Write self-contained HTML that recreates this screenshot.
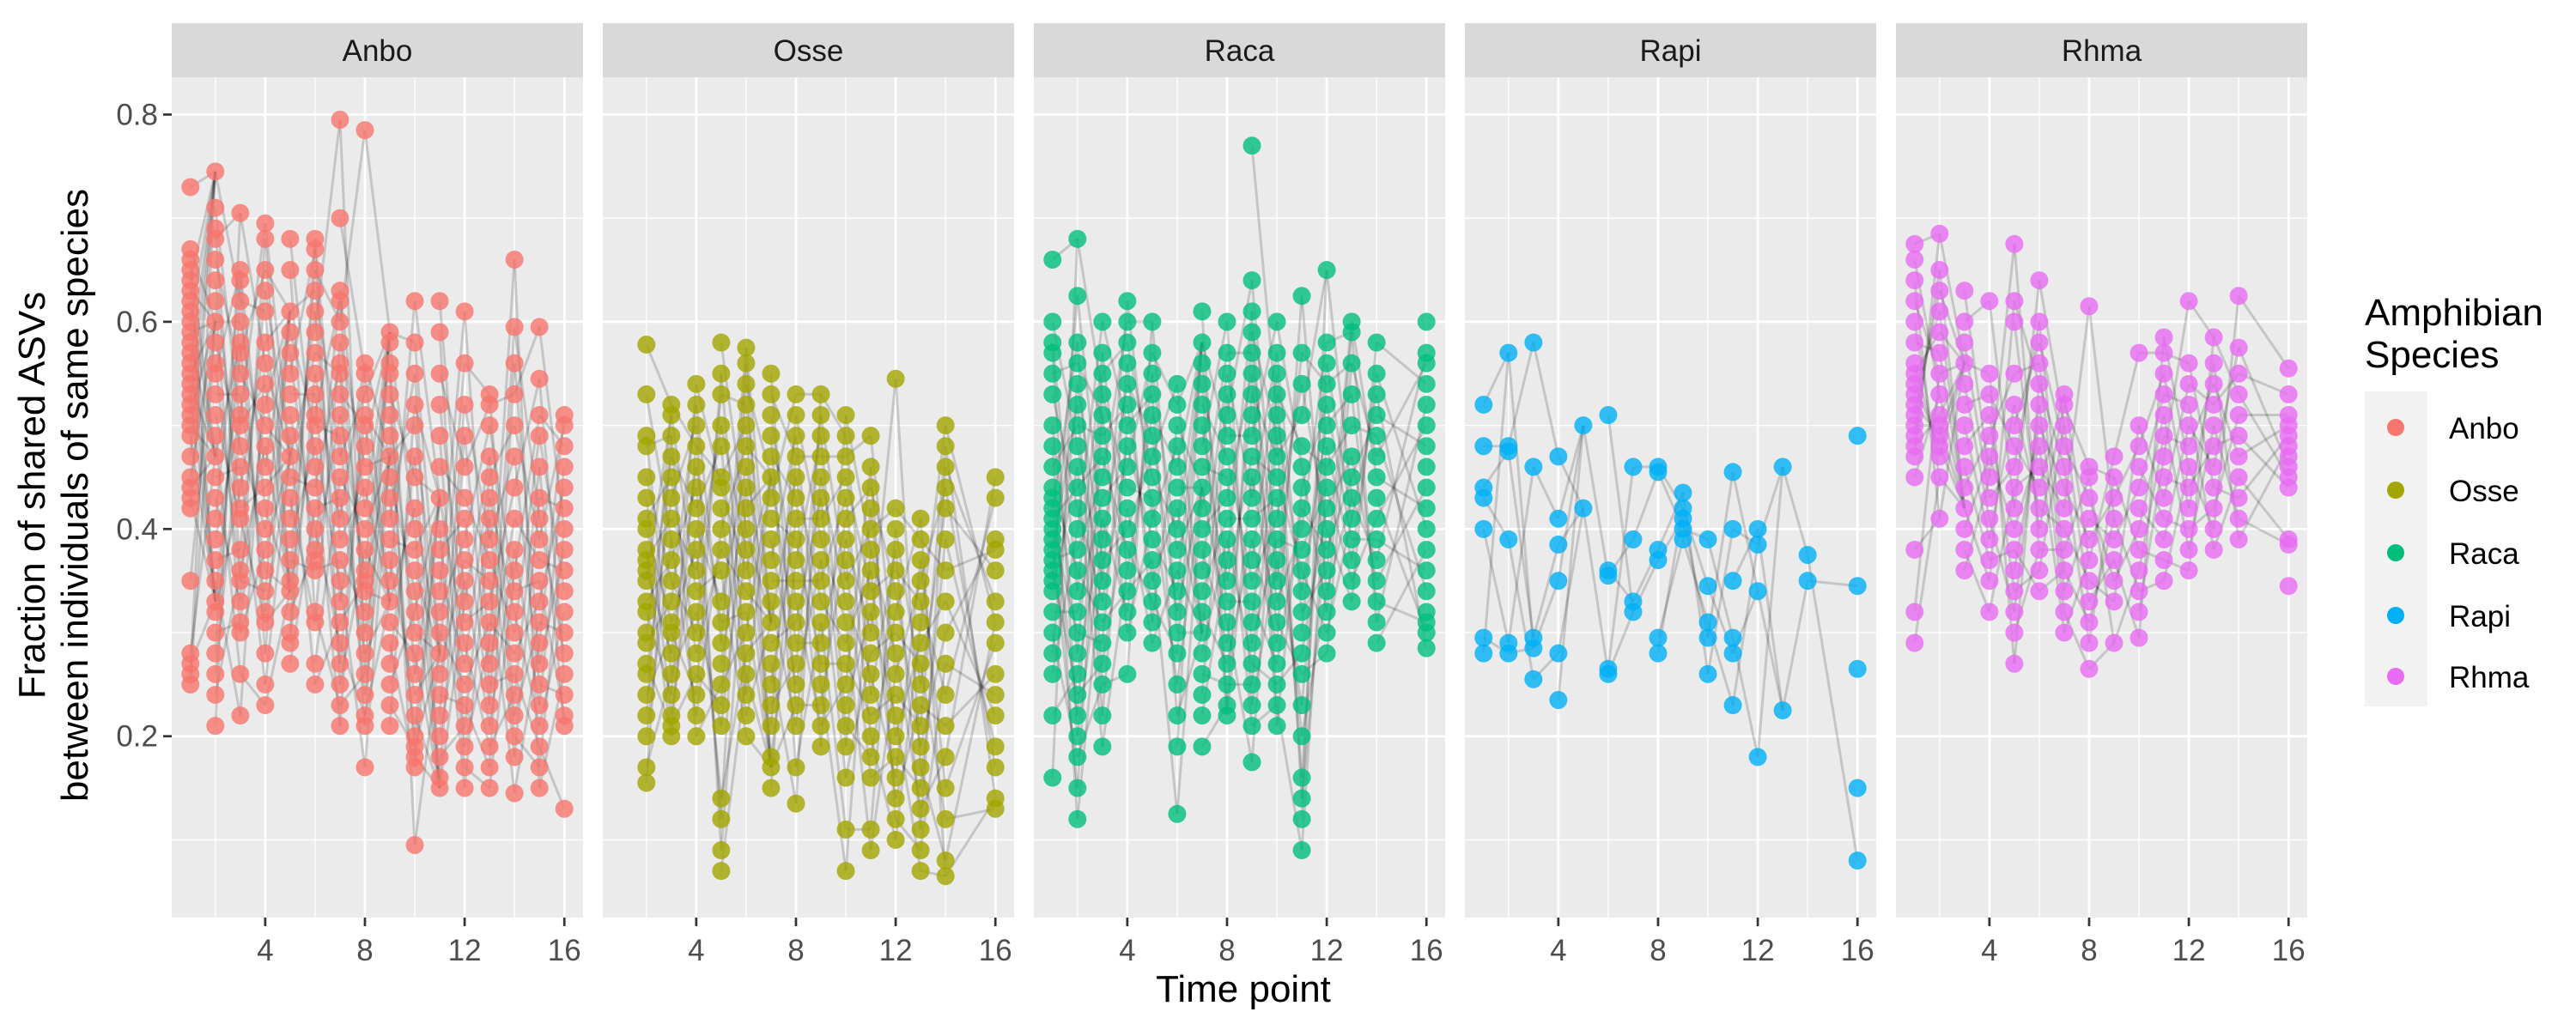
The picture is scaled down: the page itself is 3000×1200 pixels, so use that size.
<!DOCTYPE html>
<html><head><meta charset="utf-8"><style>
html,body{margin:0;padding:0;background:#fff}
svg{display:block}
text{font-family:"Liberation Sans",Arial,sans-serif}
</style></head><body>
<svg id="chart" width="3000" height="1200" viewBox="0 0 3000 1200" xmlns="http://www.w3.org/2000/svg">
<rect width="3000" height="1200" fill="#fff"/>
<g id="panels"></g>
<text x="1448" y="1167" font-size="44" text-anchor="middle" fill="#000">Time point</text>
<g transform="translate(52,577) rotate(-90)">
<text x="0" y="0" font-size="44" text-anchor="middle" fill="#000">Fraction of shared ASVs</text>
<text x="0" y="50" font-size="44" text-anchor="middle" fill="#000">between individuals of same species</text>
</g>
<g>
<text x="2754" y="379" font-size="44" fill="#000">Amphibian</text>
<text x="2754" y="428" font-size="44" fill="#000">Species</text>
<rect x="2754" y="456" width="73" height="367" fill="#f2f2f2"/>
<g id="legend-items"></g>
</g>
</svg>
<script>
const species = ["Anbo","Osse","Raca","Rapi","Rhma"];
const colors = ["#F8766D","#A3A500","#00BF7D","#00B0F6","#E76BF3"];
const xTicks = [4,8,12,16];
const yTicks = [0.2,0.4,0.6,0.8];
const yTickLabels = ["0.2","0.4","0.6","0.8"];

const anboTimes = [1,2,3,4,5,6,7,8,9,10,11,12,13,14,15,16];
const anboValues = [
[0.73,0.67,0.66,0.65,0.64,0.63,0.62,0.61,0.60,0.59,0.58,0.57,0.56,0.55,0.54,0.53,0.52,0.51,0.50,0.49,0.47,0.45,0.44,0.43,0.42,0.35,0.28,0.27,0.26,0.25],
[0.745,0.71,0.69,0.68,0.66,0.64,0.62,0.60,0.58,0.56,0.55,0.53,0.51,0.49,0.47,0.45,0.43,0.41,0.39,0.37,0.35,0.33,0.32,0.30,0.28,0.26,0.24,0.21],
[0.705,0.65,0.64,0.62,0.60,0.58,0.57,0.55,0.53,0.51,0.50,0.48,0.46,0.44,0.42,0.41,0.38,0.36,0.35,0.33,0.31,0.30,0.26,0.22],
[0.695,0.68,0.65,0.63,0.61,0.58,0.56,0.54,0.52,0.50,0.48,0.46,0.44,0.42,0.40,0.38,0.36,0.34,0.32,0.31,0.28,0.25,0.23],
[0.68,0.65,0.61,0.59,0.57,0.55,0.53,0.51,0.49,0.47,0.45,0.43,0.41,0.39,0.37,0.35,0.34,0.32,0.30,0.29,0.27],
[0.68,0.67,0.65,0.63,0.61,0.59,0.57,0.55,0.53,0.51,0.50,0.48,0.46,0.44,0.42,0.40,0.38,0.37,0.36,0.32,0.31,0.27,0.25],
[0.795,0.70,0.63,0.62,0.60,0.58,0.56,0.55,0.53,0.51,0.49,0.47,0.45,0.43,0.41,0.39,0.37,0.35,0.33,0.31,0.29,0.27,0.25,0.23,0.21],
[0.785,0.56,0.55,0.53,0.51,0.50,0.48,0.46,0.44,0.42,0.40,0.38,0.36,0.35,0.34,0.32,0.30,0.28,0.26,0.24,0.22,0.21,0.17],
[0.59,0.58,0.56,0.55,0.53,0.51,0.49,0.47,0.45,0.43,0.41,0.39,0.37,0.35,0.33,0.31,0.29,0.27,0.25,0.23,0.21],
[0.62,0.58,0.55,0.52,0.50,0.47,0.45,0.42,0.40,0.38,0.36,0.34,0.32,0.30,0.28,0.26,0.24,0.22,0.20,0.19,0.18,0.17,0.095],
[0.62,0.59,0.55,0.52,0.49,0.46,0.43,0.40,0.38,0.36,0.34,0.32,0.30,0.28,0.26,0.24,0.22,0.20,0.18,0.16,0.15],
[0.61,0.56,0.52,0.49,0.46,0.43,0.41,0.39,0.37,0.35,0.33,0.31,0.29,0.27,0.25,0.23,0.21,0.19,0.17,0.15],
[0.53,0.52,0.50,0.47,0.45,0.43,0.41,0.39,0.37,0.35,0.33,0.31,0.29,0.27,0.25,0.23,0.21,0.19,0.17,0.15],
[0.66,0.595,0.56,0.53,0.50,0.47,0.44,0.41,0.38,0.36,0.34,0.32,0.30,0.28,0.26,0.24,0.22,0.20,0.18,0.145],
[0.595,0.545,0.51,0.49,0.46,0.43,0.41,0.39,0.37,0.35,0.33,0.31,0.29,0.27,0.25,0.23,0.21,0.19,0.17,0.15],
[0.51,0.50,0.48,0.46,0.44,0.42,0.40,0.38,0.36,0.34,0.32,0.30,0.28,0.26,0.24,0.22,0.21,0.13]];

const osseTimes = [2,3,4,5,6,7,8,9,10,11,12,13,14,16];
const osseValues = [
[0.578,0.53,0.49,0.48,0.45,0.43,0.41,0.40,0.38,0.37,0.36,0.35,0.33,0.32,0.30,0.29,0.27,0.26,0.24,0.22,0.20,0.17,0.155],
[0.52,0.51,0.49,0.47,0.45,0.43,0.41,0.39,0.37,0.35,0.33,0.31,0.30,0.28,0.26,0.24,0.22,0.21,0.20],
[0.54,0.52,0.50,0.48,0.46,0.44,0.42,0.40,0.38,0.36,0.34,0.32,0.30,0.28,0.26,0.24,0.22,0.20],
[0.58,0.55,0.53,0.50,0.48,0.45,0.44,0.42,0.40,0.38,0.36,0.33,0.31,0.29,0.27,0.25,0.23,0.21,0.14,0.12,0.09,0.07],
[0.575,0.56,0.54,0.52,0.50,0.48,0.46,0.44,0.42,0.40,0.38,0.36,0.34,0.32,0.30,0.28,0.26,0.24,0.22,0.20],
[0.55,0.53,0.51,0.49,0.47,0.45,0.43,0.41,0.39,0.37,0.35,0.33,0.31,0.29,0.27,0.25,0.23,0.21,0.18,0.17,0.15],
[0.53,0.51,0.49,0.47,0.45,0.43,0.41,0.39,0.37,0.35,0.33,0.31,0.29,0.27,0.25,0.23,0.21,0.17,0.135],
[0.53,0.51,0.49,0.47,0.45,0.43,0.41,0.39,0.37,0.35,0.33,0.31,0.29,0.27,0.25,0.23,0.21,0.19],
[0.51,0.49,0.47,0.45,0.43,0.41,0.39,0.37,0.35,0.33,0.31,0.29,0.27,0.25,0.23,0.21,0.19,0.16,0.11,0.07],
[0.49,0.46,0.44,0.42,0.40,0.38,0.36,0.34,0.32,0.30,0.28,0.26,0.24,0.22,0.20,0.18,0.16,0.11,0.09],
[0.545,0.42,0.40,0.38,0.36,0.34,0.32,0.30,0.28,0.26,0.24,0.22,0.20,0.18,0.16,0.14,0.12,0.10],
[0.41,0.39,0.37,0.35,0.33,0.31,0.29,0.27,0.25,0.23,0.21,0.19,0.17,0.15,0.13,0.11,0.09,0.07],
[0.50,0.48,0.46,0.44,0.42,0.39,0.36,0.33,0.30,0.27,0.24,0.21,0.18,0.15,0.12,0.08,0.065],
[0.45,0.43,0.39,0.38,0.36,0.33,0.31,0.29,0.26,0.24,0.22,0.19,0.17,0.14,0.13]];

const racaTimes = [1,2,3,4,5,6,7,8,9,10,11,12,13,14,16];
const racaValues = [
[0.66,0.60,0.58,0.57,0.55,0.53,0.50,0.48,0.46,0.44,0.43,0.42,0.41,0.40,0.39,0.38,0.37,0.36,0.35,0.34,0.32,0.30,0.28,0.26,0.22,0.16],
[0.68,0.625,0.58,0.56,0.54,0.52,0.50,0.48,0.46,0.44,0.42,0.40,0.38,0.36,0.34,0.32,0.30,0.28,0.26,0.24,0.22,0.20,0.18,0.15,0.12],
[0.60,0.57,0.55,0.53,0.51,0.49,0.47,0.45,0.43,0.41,0.39,0.37,0.35,0.33,0.31,0.29,0.27,0.25,0.22,0.19],
[0.62,0.60,0.58,0.56,0.54,0.52,0.50,0.48,0.46,0.44,0.42,0.40,0.38,0.36,0.34,0.32,0.30,0.26],
[0.60,0.57,0.55,0.53,0.51,0.49,0.47,0.45,0.43,0.41,0.39,0.37,0.35,0.33,0.31,0.29],
[0.54,0.52,0.50,0.48,0.46,0.44,0.42,0.40,0.38,0.36,0.34,0.32,0.30,0.28,0.25,0.22,0.19,0.125],
[0.61,0.58,0.56,0.54,0.52,0.50,0.48,0.46,0.44,0.42,0.40,0.38,0.36,0.34,0.32,0.30,0.28,0.26,0.24,0.22,0.19],
[0.60,0.57,0.55,0.53,0.51,0.49,0.47,0.45,0.43,0.41,0.39,0.37,0.35,0.33,0.31,0.29,0.27,0.25,0.23,0.22],
[0.77,0.64,0.61,0.59,0.57,0.55,0.53,0.51,0.49,0.47,0.45,0.43,0.41,0.39,0.37,0.35,0.33,0.31,0.29,0.27,0.25,0.23,0.21,0.175],
[0.60,0.57,0.55,0.53,0.51,0.49,0.47,0.45,0.43,0.41,0.39,0.37,0.35,0.33,0.31,0.29,0.27,0.25,0.23,0.21],
[0.625,0.57,0.54,0.51,0.48,0.46,0.44,0.42,0.40,0.38,0.36,0.34,0.32,0.30,0.28,0.26,0.23,0.20,0.16,0.14,0.12,0.09],
[0.65,0.58,0.56,0.54,0.52,0.50,0.48,0.46,0.44,0.42,0.40,0.38,0.36,0.34,0.32,0.30,0.28],
[0.60,0.59,0.56,0.53,0.50,0.47,0.45,0.43,0.41,0.39,0.37,0.35,0.33],
[0.58,0.55,0.53,0.51,0.49,0.47,0.45,0.43,0.41,0.39,0.37,0.35,0.33,0.31,0.29],
[0.60,0.57,0.56,0.54,0.52,0.50,0.48,0.46,0.44,0.42,0.40,0.38,0.36,0.34,0.32,0.31,0.30,0.285]];

const rapiTimes = [1,2,3,4,5,6,7,8,9,10,11,12,13,14,16];
const rapiValues = [
[0.52,0.48,0.44,0.43,0.40,0.295,0.28],
[0.57,0.48,0.475,0.39,0.29,0.28],
[0.58,0.46,0.295,0.285,0.255],
[0.47,0.41,0.385,0.35,0.28,0.235],
[0.50,0.42],
[0.51,0.36,0.355,0.265,0.26],
[0.46,0.39,0.33,0.32],
[0.46,0.455,0.38,0.37,0.295,0.28],
[0.435,0.42,0.41,0.40,0.39],
[0.39,0.345,0.31,0.295,0.26],
[0.455,0.40,0.35,0.295,0.28,0.23],
[0.40,0.385,0.34,0.18],
[0.46,0.225],
[0.375,0.35],
[0.49,0.345,0.265,0.15,0.08]];

const rhmaTimes = [1,2,3,4,5,6,7,8,9,10,11,12,13,14,16];
const rhmaValues = [
[0.675,0.66,0.64,0.62,0.60,0.58,0.56,0.55,0.54,0.53,0.52,0.51,0.50,0.49,0.48,0.47,0.45,0.38,0.32,0.29],
[0.685,0.65,0.63,0.61,0.59,0.57,0.55,0.53,0.51,0.50,0.49,0.48,0.47,0.45,0.41],
[0.63,0.60,0.58,0.56,0.54,0.52,0.50,0.48,0.46,0.44,0.42,0.40,0.38,0.36],
[0.62,0.55,0.53,0.51,0.49,0.47,0.45,0.43,0.41,0.39,0.37,0.35,0.32],
[0.675,0.62,0.60,0.55,0.52,0.50,0.48,0.46,0.44,0.42,0.40,0.38,0.36,0.34,0.32,0.30,0.27],
[0.64,0.60,0.58,0.56,0.54,0.52,0.50,0.48,0.46,0.44,0.42,0.40,0.38,0.36,0.34],
[0.53,0.52,0.50,0.48,0.46,0.44,0.42,0.40,0.38,0.36,0.34,0.32,0.30],
[0.615,0.46,0.45,0.43,0.41,0.39,0.37,0.35,0.33,0.31,0.29,0.265],
[0.47,0.45,0.43,0.41,0.39,0.37,0.35,0.33,0.29],
[0.57,0.50,0.48,0.46,0.44,0.42,0.40,0.38,0.36,0.34,0.32,0.295],
[0.585,0.57,0.55,0.53,0.51,0.49,0.47,0.45,0.43,0.41,0.39,0.37,0.35],
[0.62,0.56,0.54,0.52,0.50,0.48,0.46,0.44,0.42,0.40,0.38,0.36],
[0.585,0.56,0.54,0.52,0.50,0.48,0.46,0.44,0.42,0.40,0.38],
[0.625,0.575,0.55,0.53,0.51,0.49,0.47,0.45,0.43,0.41,0.39],
[0.555,0.53,0.51,0.50,0.49,0.48,0.47,0.46,0.45,0.44,0.39,0.385,0.345]];

const allTimes = [anboTimes,osseTimes,racaTimes,rapiTimes,rhmaTimes];
const allValues = [anboValues,osseValues,racaValues,rapiValues,rhmaValues];

const NS = "http://www.w3.org/2000/svg";
const PANEL_TOP = 90, PANEL_BOTTOM = 1069, PANEL_W = 479, PANEL_STEP = 502, PANEL_X0 = 200;
const X_MIN = 0.25, X_MAX = 16.75, Y_MIN = 0.025, Y_MAX = 0.836;
function xScale(px0, t){ return px0 + (t - X_MIN) / (X_MAX - X_MIN) * PANEL_W; }
function yScale(v){ return PANEL_BOTTOM - (v - Y_MIN) / (Y_MAX - Y_MIN) * (PANEL_BOTTOM - PANEL_TOP); }
function mk(tag, attrs, parent){
  const e = document.createElementNS(NS, tag);
  for (const k in attrs) e.setAttribute(k, attrs[k]);
  parent.appendChild(e); return e;
}
const root = document.getElementById("panels");

species.forEach((sp, si) => {
  const px0 = PANEL_X0 + si * PANEL_STEP;
  const g = mk("g", {}, root);
  
  
  const strip = mk("rect", {x:px0, y:27, width:PANEL_W, height:63, fill:"#d9d9d9"}, g);
  
  
  const st = mk("text", {x:px0 + PANEL_W/2, y:71, "font-size":35, "text-anchor":"middle", fill:"#1a1a1a"}, g);
  st.textContent = sp;
  
  
  const bg = mk("rect", {x:px0, y:PANEL_TOP, width:PANEL_W, height:PANEL_BOTTOM-PANEL_TOP, fill:"#ebebeb"}, g);
  
  
  [0.1,0.3,0.5,0.7].forEach(v => {
    const l = mk("line", {x1:px0, x2:px0+PANEL_W, y1:yScale(v), y2:yScale(v), stroke:"#fff", "stroke-width":1.3}, g);
    
    
  });
  [2,6,10,14].forEach(t => {
    const l = mk("line", {x1:xScale(px0,t), x2:xScale(px0,t), y1:PANEL_TOP, y2:PANEL_BOTTOM, stroke:"#fff", "stroke-width":1.3}, g);
    
    
  });
  yTicks.forEach(v => {
    const l = mk("line", {x1:px0, x2:px0+PANEL_W, y1:yScale(v), y2:yScale(v), stroke:"#fff", "stroke-width":2.7}, g);
    
    
  });
  xTicks.forEach(t => {
    const x = xScale(px0,t);
    const l = mk("line", {x1:x, x2:x, y1:PANEL_TOP, y2:PANEL_BOTTOM, stroke:"#fff", "stroke-width":2.7}, g);
    
    
    const tk = mk("line", {x1:x, x2:x, y1:PANEL_BOTTOM, y2:PANEL_BOTTOM+10, stroke:"#333", "stroke-width":2.7}, g);
    
    
    const tl = mk("text", {x:x, y:1119, "font-size":35, "text-anchor":"middle", fill:"#4d4d4d"}, g);
    tl.textContent = String(t);
    
    
  });
  if (si === 0) {
    yTicks.forEach((v, i) => {
      const tk = mk("line", {x1:PANEL_X0-10, x2:PANEL_X0, y1:yScale(v), y2:yScale(v), stroke:"#333", "stroke-width":2.7}, g);
      
      
      const tl = mk("text", {x:PANEL_X0-16, y:yScale(v)+12, "font-size":35, "text-anchor":"end", fill:"#4d4d4d"}, g);
      tl.textContent = yTickLabels[i];
      
      
    });
  }
  const times = allTimes[si], vals = allValues[si];
  const lg = mk("g", {}, g);
  
  
  for (let k = 0; k < times.length - 1; k++) {
    const a = vals[k], b = vals[k+1];
    for (let i = 0; i < a.length; i++) {
      const j = (i * 7 + k * 3) % b.length;
      const ln = mk("line", {x1:xScale(px0,times[k]), y1:yScale(a[i]), x2:xScale(px0,times[k+1]), y2:yScale(b[j]), stroke:"#000", "stroke-opacity":0.16, "stroke-width":3}, lg);
      
      
    }
  }
  const pg = mk("g", {}, g);
  
  
  times.forEach((t, k) => {
    vals[k].forEach(v => {
      const c = mk("circle", {cx:xScale(px0,t), cy:yScale(v), r:10.5, fill:colors[si], "fill-opacity":0.8}, pg);
      
      
    });
  });
});

const legendG = document.getElementById("legend-items");
const legendY = [498,571,644,717,788];
species.forEach((sp, i) => {
  const c = mk("circle", {cx:2790, cy:legendY[i], r:10, fill:colors[i]}, legendG);
  
  
  const t = mk("text", {x:2852, y:legendY[i]+13, "font-size":35, fill:"#000"}, legendG);
  t.textContent = sp;
  
  
});
</script>
</body></html>
